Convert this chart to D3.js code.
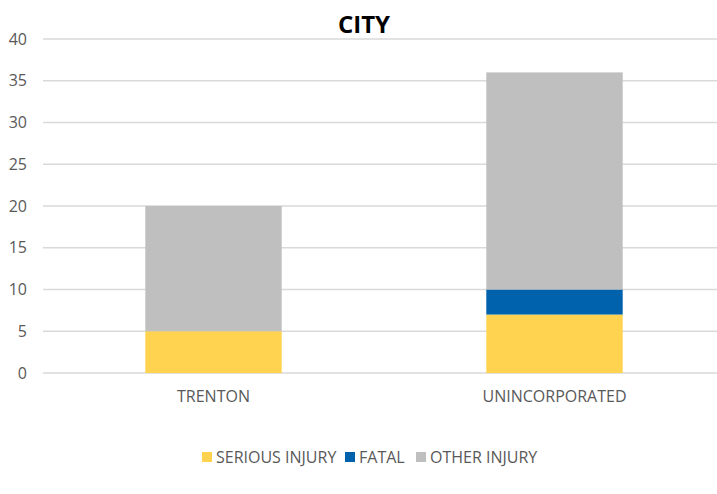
<!DOCTYPE html>
<html>
<head>
<meta charset="utf-8">
<script src="https://cdn.jsdelivr.net/npm/d3@7"></script>
<style>
  body { margin: 0; background: #fff; }
  text { font-family: "Open Sans", "Liberation Sans", sans-serif; }
</style>
</head>
<body>
<div id="chart"></div>
<script>
// data
var categories = ['TRENTON', 'UNINCORPORATED'];
var seriesNames = ['SERIOUS INJURY', 'FATAL', 'OTHER INJURY'];
var seriousInjury = [5, 7];
var fatal = [0, 3];
var otherInjury = [15, 26];
var yTicks = [0, 5, 10, 15, 20, 25, 30, 35, 40];

var colors = ['#FFD34F', '#0062AD', '#BFBFBF'];
var width = 717, height = 494;

var rows = categories.map(function(c, i) {
  return { name: c, 'SERIOUS INJURY': seriousInjury[i], 'FATAL': fatal[i], 'OTHER INJURY': otherInjury[i] };
});
var stacked = d3.stack().keys(seriesNames)(rows);

var svg = d3.select('#chart').append('svg')
  .attr('width', width).attr('height', height);

var x = d3.scaleBand().domain(categories).range([43, 725])
  .paddingInner(0.6).paddingOuter(0.3);
var y = d3.scaleLinear().domain([0, 40]).range([373, 39]);

// gridlines
svg.append('g').selectAll('line').data(yTicks).enter().append('line')
  .attr('x1', 43).attr('x2', 725)
  .attr('y1', function(d) { return y(d); })
  .attr('y2', function(d) { return y(d); })
  .attr('stroke', '#D9D9D9').attr('stroke-width', 1.5);

// y axis labels
var yAxis = d3.axisLeft(y).tickValues(yTicks).tickSize(0).tickPadding(0);
svg.append('g').attr('transform', 'translate(27,0)').call(yAxis)
  .call(function(g) { g.select('.domain').remove(); })
  .selectAll('text')
  .attr('font-size', 16).attr('fill', '#595959')
  .attr('font-family', '"Open Sans", sans-serif');

// bars
svg.append('g').selectAll('g').data(stacked).enter().append('g')
  .attr('fill', function(d, i) { return colors[i]; })
  .selectAll('rect').data(function(d) { return d; }).enter().append('rect')
  .attr('x', function(d) { return x(d.data.name); })
  .attr('width', x.bandwidth())
  .attr('y', function(d) { return y(d[1]); })
  .attr('height', function(d) { return y(d[0]) - y(d[1]); });

// x axis labels
var xAxis = d3.axisBottom(x).tickSize(0).tickPadding(0);
svg.append('g').attr('transform', 'translate(0,391)').call(xAxis)
  .call(function(g) { g.select('.domain').remove(); })
  .selectAll('text')
  .attr('font-size', 16).attr('fill', '#595959')
  .attr('font-family', '"Open Sans", sans-serif');

// title
svg.append('text')
  .attr('x', 364).attr('y', 33)
  .attr('text-anchor', 'middle')
  .attr('font-size', 24).attr('font-weight', 'bold').attr('fill', '#000')
  .text('CITY');

// legend
var legendX = [202, 345, 416];
var legend = svg.append('g').selectAll('g').data(seriesNames).enter().append('g')
  .attr('transform', function(d, i) { return 'translate(' + legendX[i] + ',452)'; });
legend.append('rect').attr('width', 10).attr('height', 10)
  .attr('fill', function(d, i) { return colors[i]; });
legend.append('text').attr('x', 14).attr('y', 11)
  .attr('font-size', 16).attr('fill', '#595959')
  .text(function(d) { return d; });
</script>
</body>
</html>
